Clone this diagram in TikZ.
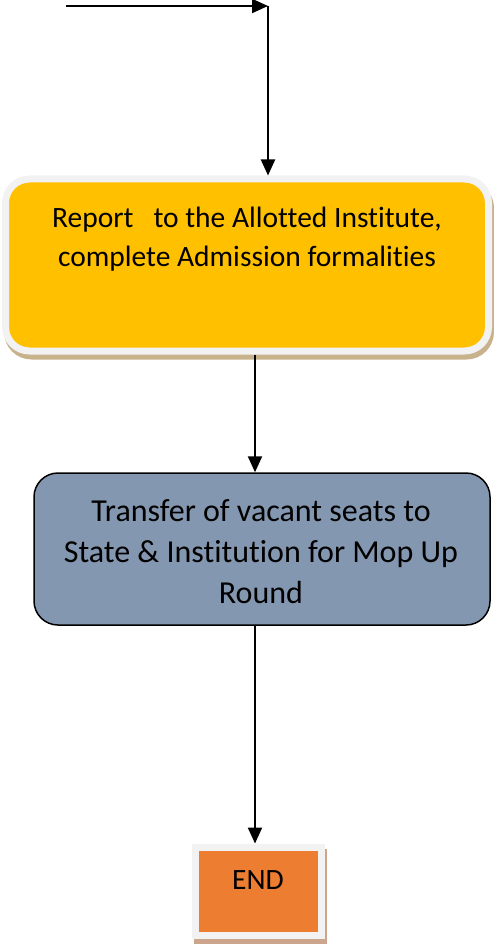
\documentclass[tikz,border=0pt]{standalone}
\usepackage{fontspec}
\setmainfont[Ligatures=NoCommon]{Carlito}
\usetikzlibrary{arrows.meta,calc}
\definecolor{boxyellow}{HTML}{FFC000}
\definecolor{boxblue}{HTML}{8497B0}
\definecolor{boxorange}{HTML}{ED7D31}
\definecolor{rimgray}{HTML}{F2F2F2}
\definecolor{shadowtan}{HTML}{C8B28C}
\definecolor{shadowbrown}{HTML}{CBA68C}
\tikzset{
  arr/.style={line width=2.2pt,-{Triangle[length=16pt,width=14pt]}},
  boxtext/.style={font=\fontsize{29.5}{39}\selectfont,align=center,inner sep=0pt},
  bigtext/.style={font=\fontsize{32}{41}\selectfont,align=center,inner sep=0pt},
  bevelbox/.style={draw=rimgray,line width=7pt,
     preaction={draw=#1,fill=#1,line width=7pt,transform canvas={xshift=2pt,yshift=-5pt}}},
}
\begin{document}
\begin{tikzpicture}[x=1pt,y=-1pt]
\useasboundingbox (0,0) rectangle (493,944);
% boxes
\node[bevelbox=shadowtan,fill=boxyellow,rounded corners=24pt,minimum width=483pt,minimum height=172pt,inner sep=0pt] (report) at (247,265) {};
\node[boxtext] (reporttext) at (247,239.5) {Report\ \ \ to the Allotted Institute,\\complete Admission formalities};
\node[draw=black,line width=1.5pt,fill=boxblue,rounded corners=24pt,minimum width=456pt,minimum height=152pt,inner sep=0pt] (transfer) at (262,549) {};
\node[bigtext] (transfertext) at (261,552) {Transfer of vacant seats to\\State \& Institution for Mop Up\\Round};
\node[bevelbox=shadowbrown,fill=boxorange,minimum width=125.5pt,minimum height=88pt,inner sep=0pt] (endbox) at (258.25,891) {};
\node[boxtext] (endtext) at (258,880) {END};
% connectors
\coordinate (start) at (66,6);
\coordinate (corner) at (268,6);
\coordinate (axis) at (255,0);
\draw[arr] (start) -- (corner);
\draw[arr] (corner) -- (corner |- report.north);
\draw[arr] (report.south -| axis) -- (transfer.north -| axis);
\draw[arr] (transfer.south -| axis) -- (endbox.north -| axis);
\end{tikzpicture}
\end{document}
